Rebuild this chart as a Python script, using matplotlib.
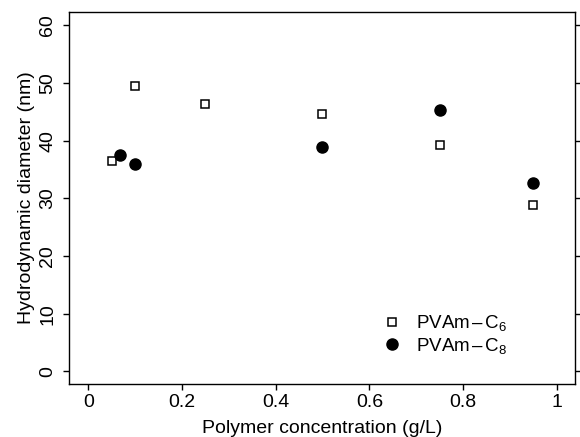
import matplotlib
matplotlib.use("Agg")
import matplotlib.pyplot as plt

plt.rcParams['font.family'] = ['Liberation Sans', 'DejaVu Sans']
plt.rcParams['mathtext.fontset'] = 'custom'
plt.rcParams['mathtext.rm'] = 'Liberation Sans'
plt.rcParams['mathtext.it'] = 'Liberation Sans'
plt.rcParams['mathtext.bf'] = 'Liberation Sans'

c6_x = [0.05, 0.10, 0.25, 0.50, 0.75, 0.95]
c6_y = [36.4, 49.4, 46.4, 44.6, 39.3, 28.8]
c8_x = [0.067, 0.10, 0.50, 0.75, 0.95]
c8_y = [37.5, 35.9, 38.9, 45.3, 32.6]

x_ticks = [0, 0.2, 0.4, 0.6, 0.8, 1.0]
x_labels = ['0', '0.2', '0.4', '0.6', '0.8', '1']
y_ticks = [0, 10, 20, 30, 40, 50, 60]

fig = plt.figure(figsize=(5.8, 4.37), dpi=100)
ax = fig.add_axes([0.1198, 0.1213, 0.8716, 0.8512])

ax.plot(c6_x, c6_y, linestyle='none', marker='s', markersize=6.3,
        markerfacecolor='white', markeredgecolor='black', markeredgewidth=1.1,
        label=r'PVAm$\,$–$\,$C$_6$')
ax.plot(c8_x, c8_y, linestyle='none', marker='o', markersize=8,
        markerfacecolor='black', markeredgecolor='black',
        label=r'PVAm$\,$–$\,$C$_8$')

ax.set_xlim(-0.040, 1.039)
ax.set_ylim(-2.2, 62.3)
ax.set_xticks(x_ticks)
ax.set_xticklabels(x_labels)
ax.set_yticks(y_ticks)
ax.set_yticklabels([str(v) for v in y_ticks], rotation=90, va='center')

for s in ax.spines.values():
    s.set_linewidth(1.0)
ax.tick_params(axis='both', direction='out', length=4.5, width=1.0, labelsize=14)
ax.tick_params(axis='y', right=True, pad=5)
ax.tick_params(axis='x', pad=3)

ax.set_xlabel('Polymer concentration (g/L)', fontsize=14, labelpad=6)
ax.set_ylabel('Hydrodynamic diameter (nm)', fontsize=14, labelpad=3)

ax.legend(loc='lower right', bbox_to_anchor=(0.90, 0.03), frameon=False,
          fontsize=13.5, handletextpad=0.8, labelspacing=0.15, handlelength=1.0)

fig.savefig('out.png', dpi=100)
